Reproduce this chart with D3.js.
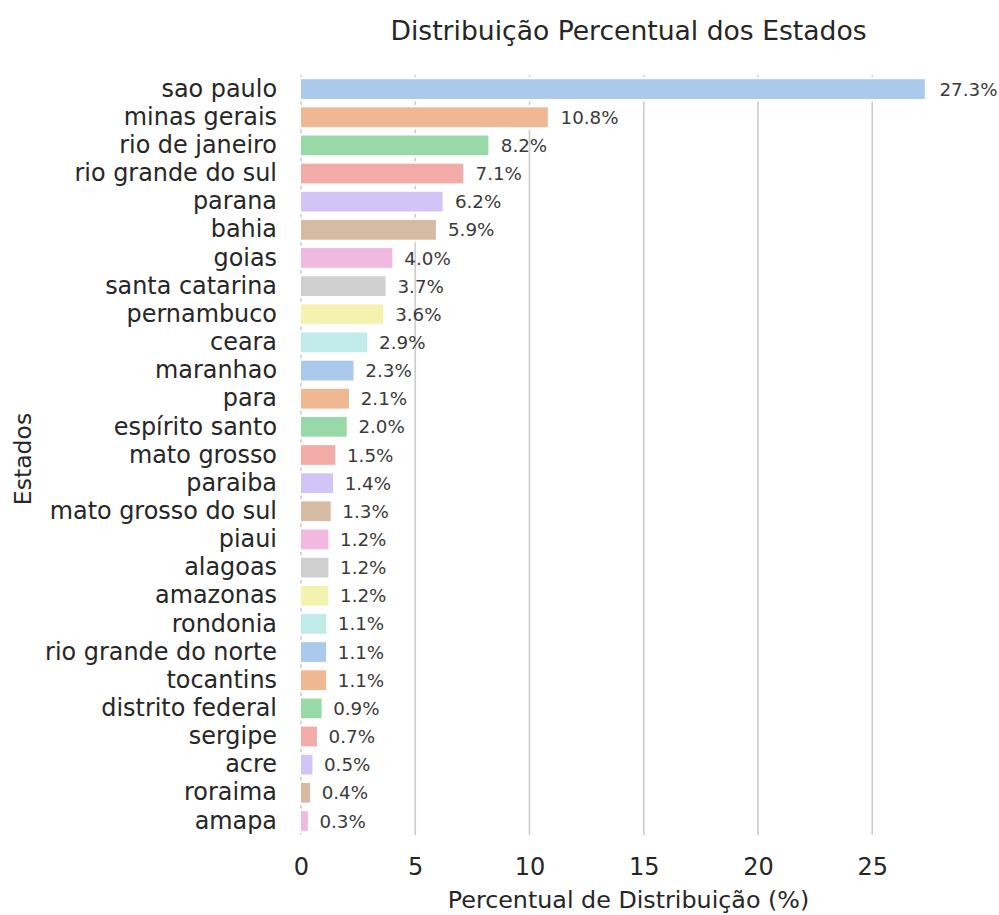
<!DOCTYPE html>
<html>
<head>
<meta charset="utf-8">
<script src="https://cdn.jsdelivr.net/npm/d3@7/dist/d3.min.js"></script>
<style>
  html, body { margin: 0; padding: 0; background: #ffffff; }
  svg { display: block; font-family: "DejaVu Sans", sans-serif; }
</style>
</head>
<body>
<svg id="chart" width="999" height="915"></svg>
<script>
// State names, ordered by share
const estados = [
  "sao paulo", "minas gerais", "rio de janeiro", "rio grande do sul", "parana",
  "bahia", "goias", "santa catarina", "pernambuco", "ceara", "maranhao", "para",
  "espírito santo", "mato grosso", "paraiba", "mato grosso do sul", "piaui",
  "alagoas", "amazonas", "rondonia", "rio grande do norte", "tocantins",
  "distrito federal", "sergipe", "acre", "roraima", "amapa"
];

// Share of each state (%)
const percentuais = [
  27.3, 10.8, 8.2, 7.1, 6.2, 5.9, 4.0, 3.7, 3.6, 2.9, 2.3, 2.1,
  2.0, 1.5, 1.4, 1.3, 1.2, 1.2, 1.2, 1.1, 1.1, 1.1, 0.9, 0.7, 0.5, 0.4, 0.3
];

// x axis ticks
const xTicks = [0, 5, 10, 15, 20, 25];

// Pastel palette, cycled through the bars and softened
const pastel = ["#a1c9f4", "#ffb482", "#8de5a1", "#ff9f9b", "#d0bbff",
                "#debb9b", "#fab0e4", "#cfcfcf", "#fffea3", "#b9f2f0"];

const titulo = "Distribuição Percentual dos Estados";
const rotuloX = "Percentual de Distribuição (%)";
const rotuloY = "Estados";

const data = estados.map((e, i) => ({ estado: e, valor: percentuais[i] }));

const svg = d3.select("#chart");
const plotLeft = 301, plotRight = 956, plotTop = 75, plotBottom = 835;
const textColor = "#262626";

const x = d3.scaleLinear()
  .domain([0, d3.max(percentuais) * 1.05])
  .range([plotLeft, plotRight]);

const y = d3.scaleBand()
  .domain(estados)
  .range([plotTop, plotBottom])
  .paddingInner(0.3)
  .paddingOuter(0.15);

function soften(c) {
  const h = d3.hsl(c);
  h.s *= 0.75;
  return h.formatHex();
}
const color = d3.scaleOrdinal()
  .domain(estados)
  .range(pastel.map(soften));

// vertical grid
svg.append("g")
  .selectAll("line")
  .data(xTicks)
  .join("line")
  .attr("x1", d => x(d)).attr("x2", d => x(d))
  .attr("y1", plotTop).attr("y2", plotBottom)
  .attr("stroke", "#cccccc")
  .attr("stroke-width", 1.6);

// bars, with a white halo that hides the grid around them
svg.append("g")
  .selectAll("rect")
  .data(data)
  .join("rect")
  .attr("x", x(0))
  .attr("y", d => y(d.estado))
  .attr("width", d => x(d.valor) - x(0))
  .attr("height", y.bandwidth())
  .attr("fill", d => color(d.estado))
  .attr("stroke", "#ffffff")
  .attr("stroke-width", 5)
  .style("paint-order", "stroke");

// value labels
svg.append("g")
  .selectAll("text")
  .data(data)
  .join("text")
  .attr("x", d => x(d.valor * 1.005) + 11.5)
  .attr("y", d => y(d.estado) + y.bandwidth() / 2)
  .attr("dy", "0.36em")
  .attr("font-size", 18.3)
  .attr("fill", "#3a3a3a")
  .text(d => d.valor.toFixed(1) + "%");

// y axis
const yAxis = svg.append("g")
  .attr("transform", `translate(${plotLeft},0)`)
  .call(d3.axisLeft(y).tickSize(0).tickPadding(24));
yAxis.select(".domain").remove();
yAxis.selectAll("text")
  .attr("font-size", 23.9)
  .attr("font-family", "DejaVu Sans")
  .attr("fill", textColor);

// x axis
const xAxis = svg.append("g")
  .attr("transform", `translate(0,${plotBottom})`)
  .call(d3.axisBottom(x).tickValues(xTicks).tickSize(0).tickPadding(23));
xAxis.select(".domain").remove();
xAxis.selectAll("text")
  .attr("font-size", 24)
  .attr("font-family", "DejaVu Sans")
  .attr("fill", textColor);

// titles
svg.append("text")
  .attr("x", (plotLeft + plotRight) / 2).attr("y", 40)
  .attr("text-anchor", "middle")
  .attr("font-size", 26.6)
  .attr("fill", textColor)
  .text(titulo);

svg.append("text")
  .attr("x", (plotLeft + plotRight) / 2).attr("y", 908)
  .attr("text-anchor", "middle")
  .attr("font-size", 23.8)
  .attr("fill", textColor)
  .text(rotuloX);

svg.append("text")
  .attr("transform", `translate(31,459) rotate(-90)`)
  .attr("text-anchor", "middle")
  .attr("font-size", 23.5)
  .attr("fill", textColor)
  .text(rotuloY);
</script>
</body>
</html>
